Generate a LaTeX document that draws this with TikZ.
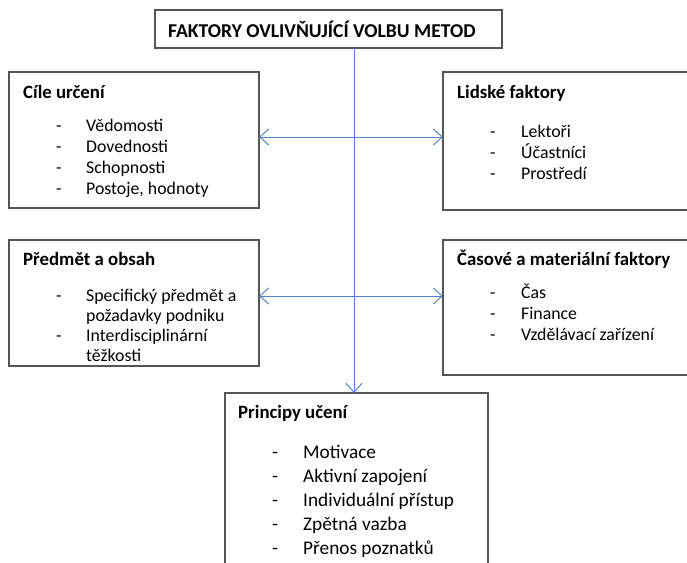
\documentclass[tikz,border=0pt]{standalone}
\usepackage{fontspec}
\setmainfont{Carlito}
\usetikzlibrary{arrows.meta}
\definecolor{boxline}{RGB}{85,85,85}
\definecolor{arrowblue}{RGB}{84,134,199}
\tikzset{
  box/.style={draw=boxline, line width=1.2pt, anchor=north west, inner sep=0pt, outer sep=0pt},
  titletext/.style={anchor=base west, inner sep=0pt, font=\fontsize{19.6}{23}\selectfont\bfseries},
  headtext/.style={anchor=base west, inner sep=0pt, font=\fontsize{18.8}{22}\selectfont\bfseries},
  itemtext/.style={anchor=base west, inner sep=0pt, font=\fontsize{17.8}{21}\selectfont},
  bigitem/.style={anchor=base west, inner sep=0pt, font=\fontsize{19.3}{24}\selectfont},
  conn/.style={draw=arrowblue, line width=1pt},
  barb/.tip={Straight Barb[length=9pt,width=16pt,line width=1pt]}
}
\begin{document}
\begin{tikzpicture}[x=1pt,y=-1pt]
\useasboundingbox (0,0) rectangle (687,562);
\clip (0,0) rectangle (687,562);

% boxes
\node[box, minimum width=347pt, minimum height=38pt] (title) at (155,10) {};
\node[box, minimum width=250pt, minimum height=136pt] (cile) at (9,72) {};
\node[box, minimum width=280pt, minimum height=138pt] (lidske) at (443,72) {};
\node[box, minimum width=250pt, minimum height=126pt] (predmet) at (9,240) {};
\node[box, minimum width=280pt, minimum height=135pt] (casove) at (443,240) {};
\node[box, minimum width=263pt, minimum height=200pt] (princ) at (225,393) {};

% helper coordinates
\coordinate (vx) at (354,0);
\coordinate (h1) at (0,137);
\coordinate (h2) at (0,296);

% connectors
\draw[conn, -{barb}] (title.south -| vx) -- (princ.north -| vx);
\draw[conn, {barb}-{barb}] (cile.east |- h1) -- (lidske.west |- h1);
\draw[conn, {barb}-{barb}] (predmet.east |- h2) -- (casove.west |- h2);

% title
\node[titletext] (ttl) at (168,37) {FAKTORY OVLIVŇUJÍCÍ VOLBU METOD};

% Cile urceni
\node[headtext] (h-cile) at (23,98) {Cíle určení};
\node[itemtext] (d-c1) at (56,131) {-};
\node[itemtext] (t-c1) at (86,131) {Vědomosti};
\node[itemtext] (d-c2) at (56,152) {-};
\node[itemtext] (t-c2) at (86,152) {Dovednosti};
\node[itemtext] (d-c3) at (56,173) {-};
\node[itemtext] (t-c3) at (86,173) {Schopnosti};
\node[itemtext] (d-c4) at (56,194) {-};
\node[itemtext] (t-c4) at (86,194) {Postoje, hodnoty};

% Lidske faktory
\node[headtext] (h-lid) at (457,98) {Lidské faktory};
\node[itemtext] (d-l1) at (490,137) {-};
\node[itemtext] (t-l1) at (521,137) {Lektoři};
\node[itemtext] (d-l2) at (490,158) {-};
\node[itemtext] (t-l2) at (521,158) {Účastníci};
\node[itemtext] (d-l3) at (490,179) {-};
\node[itemtext] (t-l3) at (521,179) {Prostředí};

% Predmet a obsah
\node[headtext] (h-pre) at (23,265) {Předmět a obsah};
\node[itemtext] (d-p1) at (56,301) {-};
\node[itemtext] (t-p1) at (86,301) {Specifický předmět a};
\node[itemtext] (t-p1b) at (86,321) {požadavky podniku};
\node[itemtext] (d-p2) at (56,341) {-};
\node[itemtext] (t-p2) at (86,341) {Interdisciplinární};
\node[itemtext] (t-p2b) at (86,361) {těžkosti};

% Casove a materialni faktory
\node[headtext] (h-cas) at (457,265) {Časové a materiální faktory};
\node[itemtext] (d-k1) at (490,298) {-};
\node[itemtext] (t-k1) at (521,298) {Čas};
\node[itemtext] (d-k2) at (490,319) {-};
\node[itemtext] (t-k2) at (521,319) {Finance};
\node[itemtext] (d-k3) at (490,340) {-};
\node[itemtext] (t-k3) at (521,340) {Vzdělávací zařízení};

% Principy uceni
\node[headtext] (h-pri) at (238,418) {Principy učení};
\node[bigitem] (d-r1) at (272,458) {-};
\node[bigitem] (t-r1) at (303,458) {Motivace};
\node[bigitem] (d-r2) at (272,482) {-};
\node[bigitem] (t-r2) at (303,482) {Aktivní zapojení};
\node[bigitem] (d-r3) at (272,506) {-};
\node[bigitem] (t-r3) at (303,506) {Individuální přístup};
\node[bigitem] (d-r4) at (272,530) {-};
\node[bigitem] (t-r4) at (303,530) {Zpětná vazba};
\node[bigitem] (d-r5) at (272,554) {-};
\node[bigitem] (t-r5) at (303,554) {Přenos poznatků};
\end{tikzpicture}
\end{document}
